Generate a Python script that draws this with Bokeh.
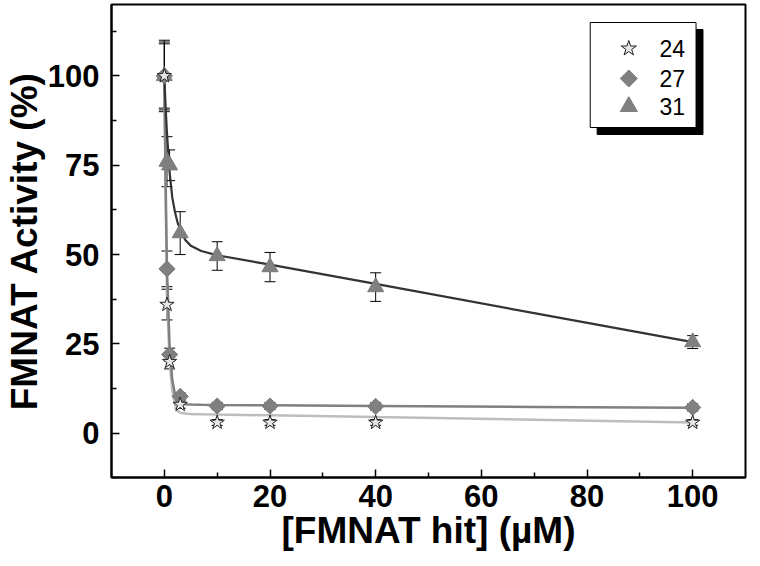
from bokeh.plotting import figure
from bokeh.models import Range1d, Whisker, ColumnDataSource, TeeHead, FixedTicker
from bokeh.core.properties import value
from bokeh.embed import file_html
from bokeh.resources import INLINE
import math

# ---- data ----
conc = [0, 0.5, 1, 3, 10, 20, 40, 100]
act_24 = [100, 36, 20, 8, 3, 3, 3, 3]
err_24 = [9, 4.3, 2, 1, 0.8, 0.8, 0.8, 0.8]
act_27 = [100, 46, 22, 10.3, 7.6, 7.6, 7.5, 7.2]
err_27 = [10, 5, 1.8, 1, 1, 1, 1, 1]
act_31 = [100, 76, 75, 56, 49.6, 46.5, 40.9, 25.5]
err_31 = [9.5, 7, 4.3, 6, 4, 4.1, 4, 1.8]

# fitted curves
fit_x = [0, 0.25, 0.5, 1, 1.5, 2, 2.5, 3, 4, 5, 7, 10, 20, 40, 70, 100]
fit_24 = [100, 65, 38, 20, 12, 8, 6.3, 5.7, 5.5, 5.4, 5.3, 5.2, 5.0, 4.5, 3.8, 3.0]
fit_27 = [100, 70, 46, 24, 15, 11, 9, 8.4, 8.1, 8.0, 7.95, 7.9, 7.8, 7.6, 7.35, 7.1]
fit_31 = [100, 91, 84, 73, 66, 62, 59, 57, 54, 52.5, 51, 49.8, 47.2, 41.8, 33.6, 25.5]

series_names = ["24", "27", "31"]
x_ticks = [0, 20, 40, 60, 80, 100]
x_minor = [10, 30, 50, 70, 90]
y_ticks = [0, 25, 50, 75, 100]
y_minor = [12.5, 37.5, 62.5, 87.5, 112.5]

X0, X1 = -10, 110
Y0, Y1 = -12.4, 120

p = figure(width=750, height=558, x_range=Range1d(X0, X1), y_range=Range1d(Y0, Y1),
           output_backend="svg", toolbar_location=None,
           min_border_left=104, min_border_right=5, min_border_top=4, min_border_bottom=81)
p.background_fill_color = "white"
p.border_fill_color = "white"
p.xgrid.visible = False
p.ygrid.visible = False
p.outline_line_color = "black"
p.outline_line_width = 2

for ax in (p.xaxis[0], p.yaxis[0]):
    ax.axis_line_width = 2
    ax.axis_line_color = "black"
    ax.major_tick_in = 8
    ax.major_tick_out = 0
    ax.minor_tick_in = 5
    ax.minor_tick_out = 0
    ax.major_tick_line_width = 1.5
    ax.minor_tick_line_width = 1.5
    ax.major_label_text_font = "Liberation Sans"
    ax.major_label_text_font_style = "bold"
    ax.major_label_text_font_size = "31px"
    ax.major_label_text_color = "black"
    ax.axis_label_text_font = "Liberation Sans"
    ax.axis_label_text_font_style = "bold"
    ax.axis_label_text_font_size = "37px"
    ax.axis_label_text_color = "black"
    ax.axis_label_standoff = 0

p.xaxis.ticker = FixedTicker(ticks=x_ticks, minor_ticks=x_minor)
p.yaxis.ticker = FixedTicker(ticks=y_ticks, minor_ticks=y_minor)
p.xaxis.major_label_standoff = 7
p.yaxis.major_label_standoff = 12
p.xaxis.axis_label = "[FMNAT hit] (µM)"
p.yaxis.axis_label = "FMNAT Activity (%)"

# fitted curves
p.line(fit_x, fit_24, line_color="#bdbdbd", line_width=2.5)
p.line(fit_x, fit_27, line_color="#808080", line_width=2.5)
p.line(fit_x, fit_31, line_color="#333333", line_width=2.2)

# markers
p.scatter(conc, act_31, marker="triangle", size=16, fill_color="#808080", line_color="#7a7a7a")
p.scatter(conc, act_27, marker="square", angle=math.pi / 4, size=11.5, fill_color="#808080", line_color="#7a7a7a")
p.scatter(conc, act_24, marker="star", size=15, fill_color="#e6e6e6", line_color="#222222", line_width=1)

# error bars
for act, err in ((act_24, err_24), (act_27, err_27), (act_31, err_31)):
    src = ColumnDataSource(dict(x=conc,
                                upper=[a + e for a, e in zip(act, err)],
                                lower=[a - e for a, e in zip(act, err)]))
    w = Whisker(source=src, base="x", upper="upper", lower="lower",
                line_color="black", line_width=1,
                upper_head=TeeHead(size=11, line_color="black", line_width=1),
                lower_head=TeeHead(size=11, line_color="black", line_width=1))
    p.add_layout(w)

# ---- legend box with drop shadow (pixel layout converted to data units) ----
FL, FR, FT, FB = 112, 753, 4, 477
def fx(px):
    return X0 + (px - FL) * (X1 - X0) / (FR - FL)
def fy(py):
    return Y1 - (py - FT) * (Y1 - Y0) / (FB - FT)

bl, br, bt, bb = 596, 703, 22, 127
sh = 7
p.quad(left=[fx(bl + sh)], right=[fx(br + sh)], top=[fy(bt + sh)], bottom=[fy(bb + sh)],
       fill_color="black", line_color="black")
p.quad(left=[fx(bl)], right=[fx(br)], top=[fy(bt)], bottom=[fy(bb)],
       fill_color="white", line_color="black", line_width=1)
rows = [48, 78, 106]
mx = 635
p.scatter([fx(mx)], [fy(rows[0])], marker="star", size=16, fill_color="#e6e6e6", line_color="#222222")
p.scatter([fx(mx)], [fy(rows[1])], marker="square", angle=math.pi / 4, size=12, fill_color="#808080", line_color="#7a7a7a")
p.scatter([fx(mx)], [fy(rows[2])], marker="triangle", size=17, fill_color="#808080", line_color="#7a7a7a")
p.text(x=[fx(666)] * 3, y=[fy(r) for r in rows], text=series_names,
       text_font=value("Liberation Sans"), text_font_size="23px", text_color="black",
       text_baseline="middle", text_align="left")

open("out.html", "w").write(file_html(p, INLINE))
